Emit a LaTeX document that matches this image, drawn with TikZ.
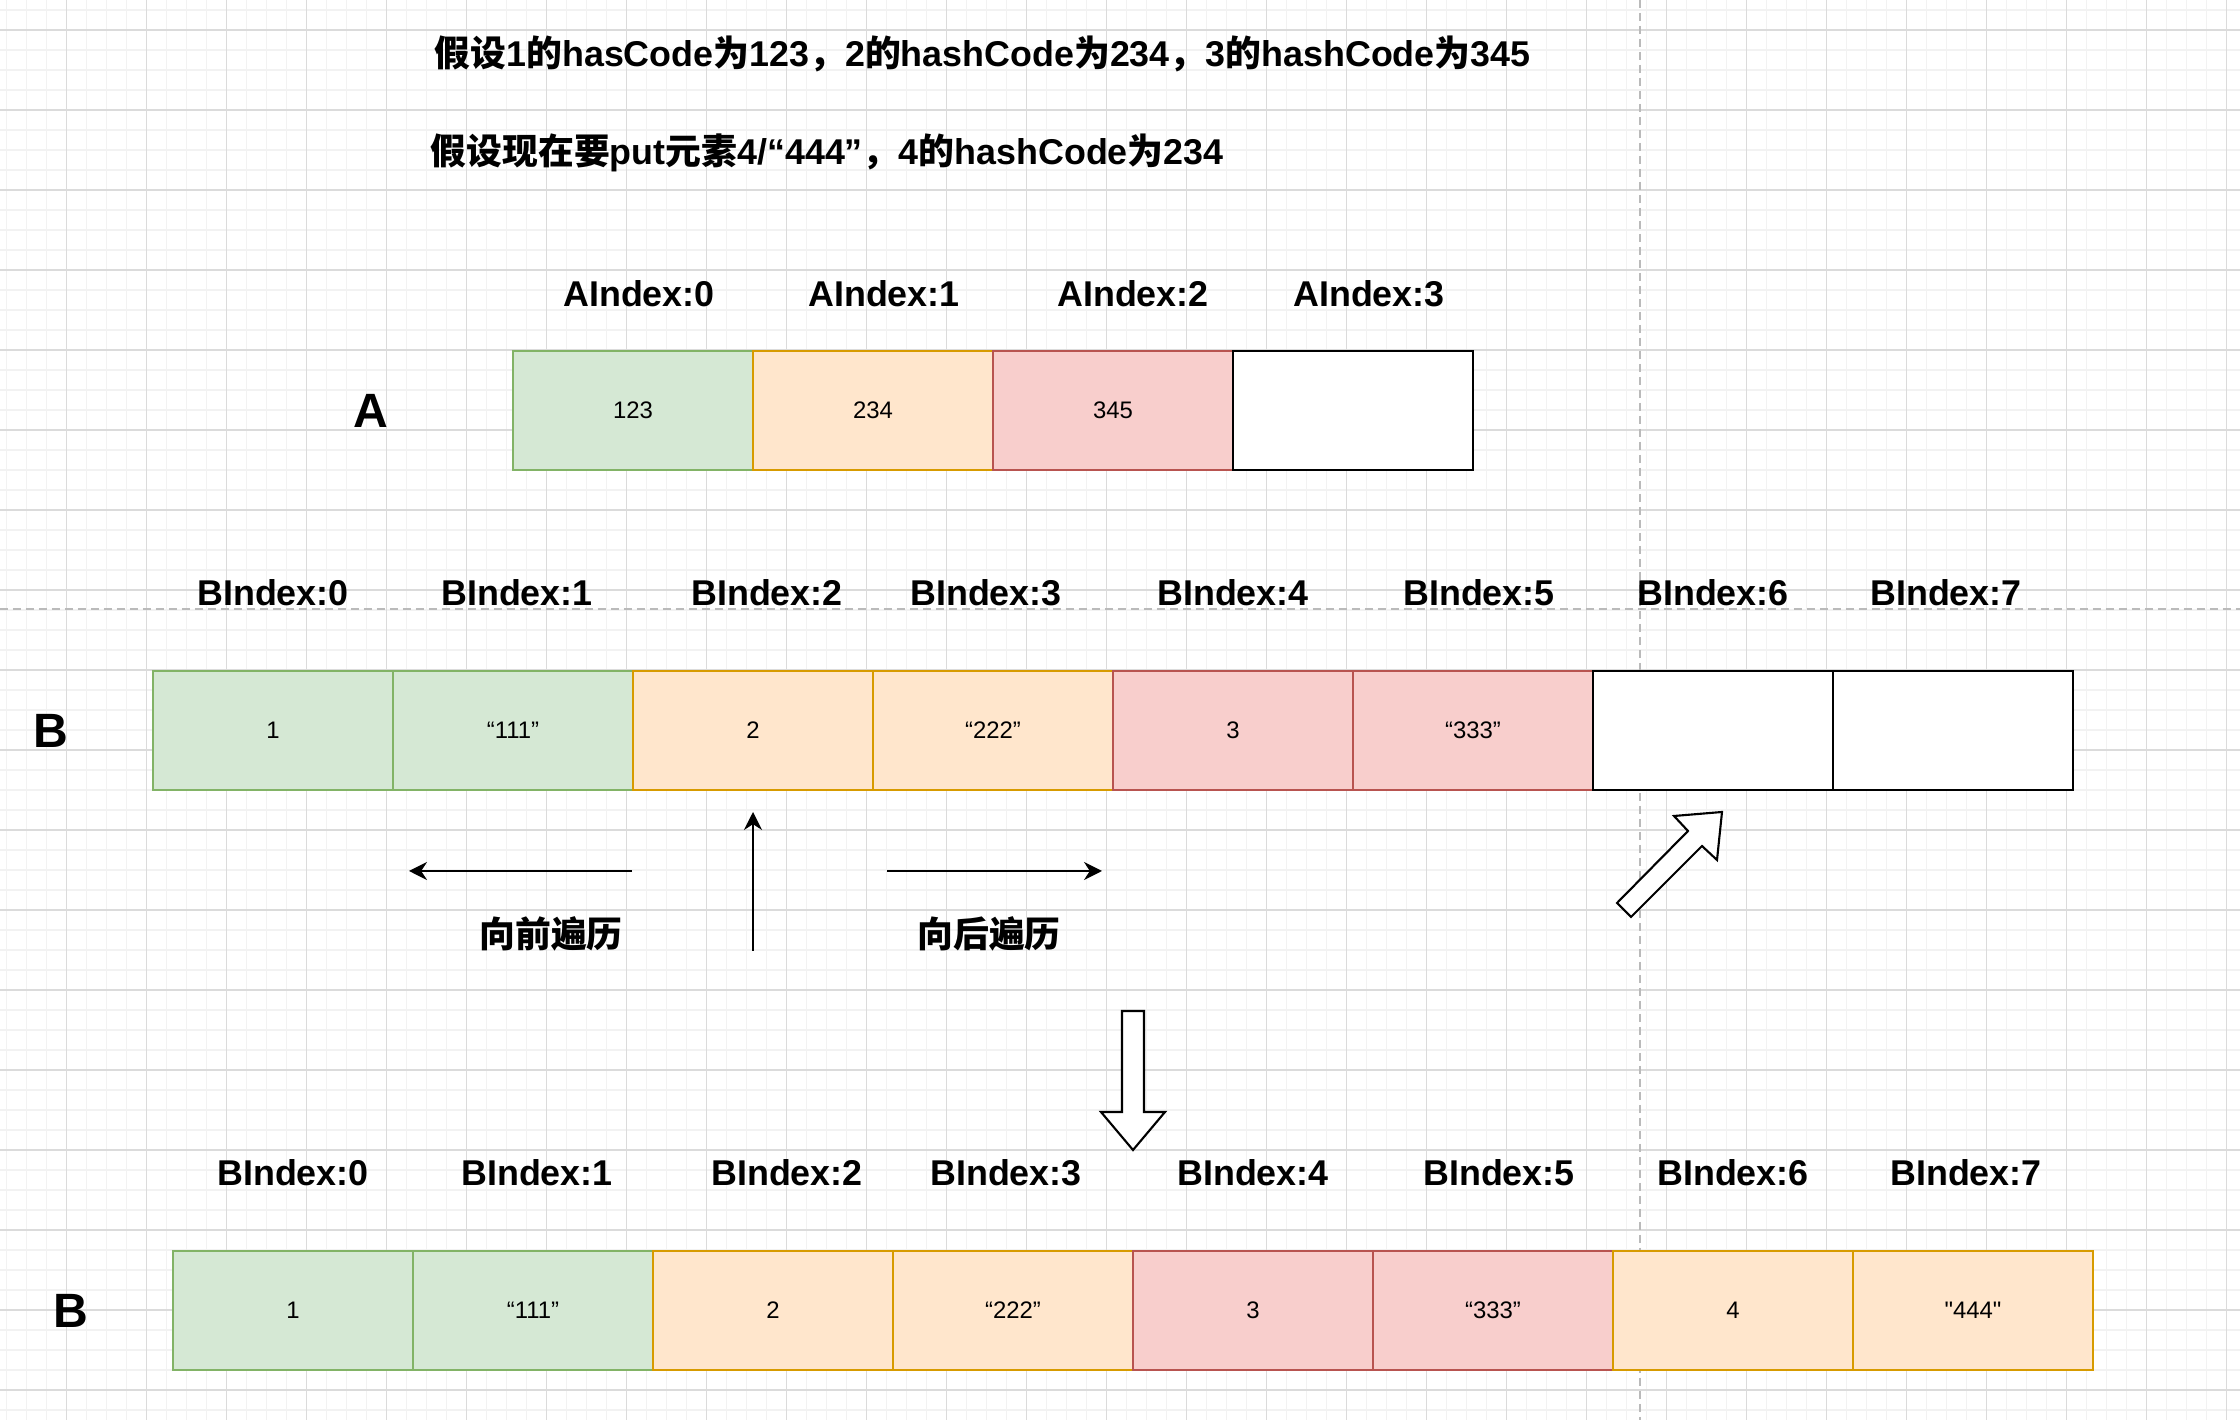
\documentclass[tikz,border=0pt]{standalone}
\usepackage{fontspec}
\setmainfont{Liberation Sans}
\newfontfamily\straight{Liberation Sans}
\newfontfamily\cjk{Noto Sans CJK SC}
\newcommand\zh[1]{{\cjk #1}}
\usetikzlibrary{positioning,arrows.meta}
\definecolor{gfill}{HTML}{D5E8D4}
\definecolor{gline}{HTML}{82B366}
\definecolor{ofill}{HTML}{FFE6CC}
\definecolor{oline}{HTML}{D79B00}
\definecolor{rfill}{HTML}{F8CECC}
\definecolor{rline}{HTML}{B85450}
\tikzset{
  cell/.style={draw, line width=0.6pt, minimum width=24mm, minimum height=11.9mm, inner sep=0pt, outer sep=0pt, font=\fontsize{6.8}{8}\selectfont},
  gcell/.style={cell, fill=gfill, draw=gline},
  ocell/.style={cell, fill=ofill, draw=oline},
  rcell/.style={cell, fill=rfill, draw=rline},
  ecell/.style={cell, fill=white, draw=black},
  idx/.style={font=\fontsize{10.2}{12}\selectfont\bfseries},
  big/.style={font=\fontsize{13.7}{16}\selectfont\bfseries},
  note/.style={anchor=west, inner sep=0pt, font=\fontsize{10.2}{12}\selectfont\bfseries},
  walklabel/.style={font=\cjk\fontsize{10.2}{12}\selectfont\bfseries},
  walk/.style={-{Stealth[length=1.8mm, width=1.8mm]}, line width=0.6pt},
  hollow/.style={draw, fill=white, line width=0.6pt, line join=miter},
  guide/.style={draw=black!27, dash pattern=on 0.8mm off 0.5mm, line width=0.5pt},
  minorgrid/.style={draw=black!5, line width=0.3pt},
  majorgrid/.style={draw=black!14, line width=0.3pt}
}
\begin{document}
\begin{tikzpicture}[x=0.1mm, y=-0.1mm]
\useasboundingbox (0,0) rectangle (2240,1420);
\fill [white] (0,0) rectangle (2240,1420);
\begin{scope}[x=1mm, y=1mm]
\clip (0,-142) rectangle (224,0);
\draw [minorgrid, step=2, xshift=0.65mm, yshift=1mm] (-10,-150) grid (230,10);
\draw [majorgrid, step=8, xshift=6.65mm, yshift=5mm] (-10,-150) grid (230,10);
\end{scope}
\draw [guide] (1640,0) -- (1640,1420);
\draw [guide] (0,609) -- (2240,609);

\node [note] (t1) at (434,54) {\zh{假设}1\zh{的}hasCode\zh{为}123\zh{，}2\zh{的}hashCode\zh{为}234\zh{，}3\zh{的}hashCode\zh{为}345};
\node [note] (t2) at (430,153) {\zh{假设现在要}put\zh{元素}4/“444”\zh{，}4\zh{的}hashCode\zh{为}234};

\node [idx] (ia0) at (639,294) {AIndex:0};
\node [idx] (ia1) at (884,294) {AIndex:1};
\node [idx] (ia2) at (1133,294) {AIndex:2};
\node [idx] (ia3) at (1369,294) {AIndex:3};
\node [big] (la) at (371,411) {A};
\node [gcell] (a0) at (633,410.5) {123};
\node [ocell, right=0pt of a0] (a1) {234};
\node [rcell, right=0pt of a1] (a2) {345};
\node [ecell, right=0pt of a2] (a3) {};

\node [idx] (ib0) at (273,593) {BIndex:0};
\node [idx] (ib1) at (517,593) {BIndex:1};
\node [idx] (ib2) at (767,593) {BIndex:2};
\node [idx] (ib3) at (986,593) {BIndex:3};
\node [idx] (ib4) at (1233,593) {BIndex:4};
\node [idx] (ib5) at (1479,593) {BIndex:5};
\node [idx] (ib6) at (1713,593) {BIndex:6};
\node [idx] (ib7) at (1946,593) {BIndex:7};
\node [big] (lb) at (51,731) {B};
\node [gcell] (b0) at (273,730.5) {1};
\node [gcell, right=0pt of b0] (b1) {“111”};
\node [ocell, right=0pt of b1] (b2) {2};
\node [ocell, right=0pt of b2] (b3) {“222”};
\node [rcell, right=0pt of b3] (b4) {3};
\node [rcell, right=0pt of b4] (b5) {“333”};
\node [ecell, right=0pt of b5] (b6) {};
\node [ecell, right=0pt of b6] (b7) {};

\coordinate (lf) at (632,871);
\coordinate (lt) at (409,871);
\coordinate (uf) at (753,951);
\coordinate (ut) at (753,812);
\coordinate (rf) at (887,871);
\coordinate (rt) at (1102,871);
\draw [walk] (lf) -- (lt);
\draw [walk] (uf) -- (ut);
\draw [walk] (rf) -- (rt);
\node [walklabel] (wb) at (551,934) {向前遍历};
\node [walklabel] (wf) at (989,934) {向后遍历};

\draw [hollow] (1722,812) -- (1717,860) -- (1702,846) -- (1631,917) -- (1617,903) -- (1688,831) -- (1674,816) -- cycle;
\draw [hollow] (1122,1011) -- (1144,1011) -- (1144,1112) -- (1165,1112) -- (1133,1150) -- (1101,1112) -- (1122,1112) -- cycle;

\node [idx] (ic0) at (293,1173) {BIndex:0};
\node [idx] (ic1) at (537,1173) {BIndex:1};
\node [idx] (ic2) at (787,1173) {BIndex:2};
\node [idx] (ic3) at (1006,1173) {BIndex:3};
\node [idx] (ic4) at (1253,1173) {BIndex:4};
\node [idx] (ic5) at (1499,1173) {BIndex:5};
\node [idx] (ic6) at (1733,1173) {BIndex:6};
\node [idx] (ic7) at (1966,1173) {BIndex:7};
\node [big] (lc) at (71,1311) {B};
\node [gcell] (c0) at (293,1310.5) {1};
\node [gcell, right=0pt of c0] (c1) {“111”};
\node [ocell, right=0pt of c1] (c2) {2};
\node [ocell, right=0pt of c2] (c3) {“222”};
\node [rcell, right=0pt of c3] (c4) {3};
\node [rcell, right=0pt of c4] (c5) {“333”};
\node [ocell, right=0pt of c5] (c6) {4};
\node [ocell, right=0pt of c6] (c7) {{\straight "444"}};
\end{tikzpicture}
\end{document}
